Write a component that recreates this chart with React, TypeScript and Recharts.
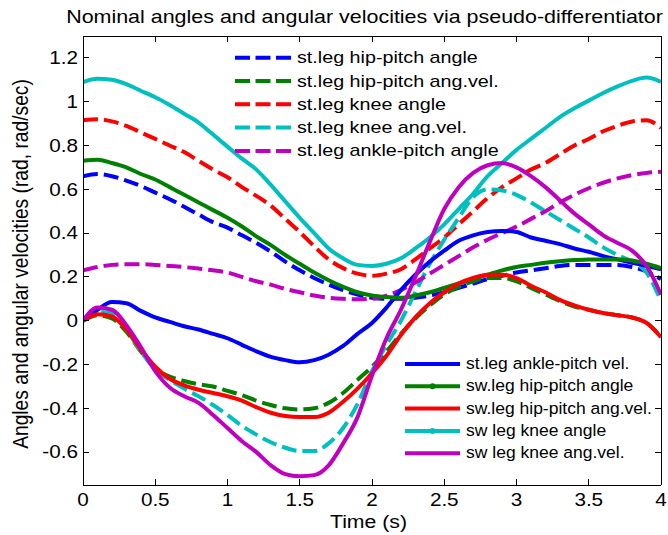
import { LineChart, Line, XAxis, YAxis } from 'recharts';

const FONT = '"Liberation Sans", Arial, Helvetica, sans-serif';

// sample times (s)
const time = [
  0, 0.1, 0.2, 0.3, 0.4, 0.5, 0.6, 0.7, 0.8, 0.9, 1.0,
  1.1, 1.2, 1.3, 1.4, 1.5, 1.6, 1.7, 1.8, 1.9, 2.0,
  2.1, 2.2, 2.3, 2.4, 2.5, 2.6, 2.7, 2.8, 2.9, 3.0,
  3.1, 3.2, 3.3, 3.4, 3.5, 3.6, 3.7, 3.8, 3.9, 4.0,
];

// stance leg
const stHipAngle = [
  0.66, 0.67, 0.66, 0.64, 0.615, 0.585, 0.555, 0.52, 0.485, 0.45, 0.425,
  0.39, 0.355, 0.315, 0.27, 0.23, 0.195, 0.165, 0.14, 0.12, 0.105,
  0.1, 0.1, 0.105, 0.115, 0.13, 0.15, 0.17, 0.19, 0.205, 0.22,
  0.23, 0.24, 0.25, 0.255, 0.255, 0.255, 0.255, 0.245, 0.225, 0.19,
];
const stHipVel = [
  0, 0.025, 0.01, -0.05, -0.14, -0.22, -0.255, -0.275, -0.29, -0.3, -0.32,
  -0.34, -0.365, -0.385, -0.4, -0.405, -0.4, -0.375, -0.33, -0.27, -0.21,
  -0.14, -0.06, 0.01, 0.07, 0.12, 0.155, 0.18, 0.195, 0.195, 0.18,
  0.15, 0.12, 0.09, 0.065, 0.05, 0.035, 0.025, 0.015, -0.01, -0.075,
];
const stKneeAngle = [
  0.915, 0.92, 0.91, 0.89, 0.86, 0.83, 0.8, 0.77, 0.73, 0.69, 0.655,
  0.61, 0.57, 0.525, 0.465, 0.405, 0.34, 0.28, 0.24, 0.215, 0.205,
  0.215, 0.235, 0.28, 0.33, 0.38, 0.44, 0.5, 0.56, 0.61, 0.65,
  0.69, 0.72, 0.76, 0.8, 0.83, 0.865, 0.89, 0.91, 0.915, 0.88,
];
const stKneeVel = [
  0, 0.04, 0.035, -0.04, -0.14, -0.22, -0.27, -0.31, -0.345, -0.385, -0.43,
  -0.48, -0.52, -0.555, -0.58, -0.595, -0.595, -0.56, -0.49, -0.38, -0.23,
  -0.11, 0.0, 0.13, 0.26, 0.37, 0.47, 0.565, 0.6, 0.595, 0.575,
  0.54, 0.5, 0.46, 0.42, 0.38, 0.335, 0.3, 0.27, 0.22, 0.09,
];
const stAnkleAngle = [
  0.23, 0.245, 0.255, 0.258, 0.258, 0.255, 0.25, 0.245, 0.238, 0.23, 0.22,
  0.2, 0.18, 0.165, 0.145, 0.13, 0.115, 0.105, 0.1, 0.098, 0.1,
  0.115, 0.14, 0.175, 0.215, 0.255, 0.295, 0.335, 0.37, 0.4, 0.43,
  0.465, 0.5, 0.54, 0.575, 0.605, 0.63, 0.65, 0.665, 0.675, 0.68,
];
const stAnkleVel = [
  0, 0.05, 0.085, 0.08, 0.045, 0.015, -0.005, -0.025, -0.04, -0.06, -0.08,
  -0.11, -0.14, -0.165, -0.18, -0.19, -0.18, -0.155, -0.115, -0.06, -0.01,
  0.06, 0.14, 0.21, 0.27, 0.32, 0.365, 0.39, 0.405, 0.41, 0.405,
  0.38, 0.365, 0.35, 0.33, 0.315, 0.295, 0.28, 0.265, 0.25, 0.235,
];

// swing leg
const swHipAngle = [
  0.73, 0.735, 0.72, 0.7, 0.67, 0.645, 0.61, 0.575, 0.54, 0.505, 0.47,
  0.43, 0.385, 0.345, 0.3, 0.26, 0.22, 0.185, 0.155, 0.13, 0.115,
  0.108, 0.105, 0.115, 0.13, 0.15, 0.17, 0.19, 0.21, 0.23, 0.245,
  0.255, 0.265, 0.272, 0.277, 0.28, 0.28, 0.28, 0.275, 0.26, 0.24,
];
const swHipVel = [
  0, 0.03, 0.02, -0.04, -0.13, -0.21, -0.265, -0.295, -0.315, -0.33, -0.345,
  -0.365, -0.395, -0.42, -0.435, -0.44, -0.44, -0.42, -0.37, -0.31, -0.24,
  -0.16, -0.065, 0.015, 0.08, 0.13, 0.17, 0.195, 0.21, 0.21, 0.195,
  0.16, 0.13, 0.095, 0.07, 0.05, 0.035, 0.025, 0.015, -0.01, -0.075,
];
const swKneeAngle = [
  1.09, 1.105, 1.1, 1.08, 1.05, 1.02, 0.985, 0.945, 0.905, 0.85, 0.795,
  0.74, 0.69, 0.62, 0.545, 0.47, 0.4, 0.33, 0.285, 0.255, 0.25,
  0.26, 0.285, 0.33, 0.38, 0.44, 0.51, 0.58, 0.66, 0.72, 0.78,
  0.83, 0.88, 0.93, 0.97, 1.005, 1.04, 1.07, 1.095, 1.11, 1.09,
];
const swKneeVel = [
  0, 0.06, 0.05, -0.02, -0.12, -0.23, -0.305, -0.345, -0.375, -0.43, -0.49,
  -0.55, -0.6, -0.66, -0.7, -0.71, -0.705, -0.66, -0.56, -0.44, -0.25,
  -0.08, 0.05, 0.2, 0.36, 0.51, 0.61, 0.675, 0.71, 0.72, 0.7,
  0.66, 0.61, 0.55, 0.49, 0.44, 0.39, 0.355, 0.32, 0.25, 0.12,
];

const xTicks = [0, 0.5, 1, 1.5, 2, 2.5, 3, 3.5, 4];
const yTicks = [-0.6, -0.4, -0.2, 0, 0.2, 0.4, 0.6, 0.8, 1, 1.2];

const BLUE = '#0000ff';
const GREEN = '#008000';
const RED = '#ff0000';
const CYAN = '#00bfbf';
const MAGENTA = '#bf00bf';

const SERIES = [
  { key: 'stHipAngle', name: 'st.leg hip-pitch angle', values: stHipAngle, color: BLUE, dashed: true },
  { key: 'stHipVel', name: 'st.leg hip-pitch ang.vel.', values: stHipVel, color: GREEN, dashed: true },
  { key: 'stKneeAngle', name: 'st.leg knee angle', values: stKneeAngle, color: RED, dashed: true },
  { key: 'stKneeVel', name: 'st.leg knee ang.vel.', values: stKneeVel, color: CYAN, dashed: true },
  { key: 'stAnkleAngle', name: 'st.leg ankle-pitch angle', values: stAnkleAngle, color: MAGENTA, dashed: true },
  { key: 'stAnkleVel', name: 'st.leg ankle-pitch vel.', values: stAnkleVel, color: BLUE, dashed: false },
  { key: 'swHipAngle', name: 'sw.leg hip-pitch angle', values: swHipAngle, color: GREEN, dashed: false, dot: true },
  { key: 'swHipVel', name: 'sw.leg hip-pitch ang.vel.', values: swHipVel, color: RED, dashed: false },
  { key: 'swKneeAngle', name: 'sw leg knee angle', values: swKneeAngle, color: CYAN, dashed: false, dot: true },
  { key: 'swKneeVel', name: 'sw leg knee ang.vel.', values: swKneeVel, color: MAGENTA, dashed: false },
];

const rows = time.map((t, i) => {
  const r: any = { t };
  SERIES.forEach(s => { r[s.key] = s.values[i]; });
  return r;
});

const YTick = ({ x, y, payload }: any) => (
  <text transform={`translate(${x},${y}) scale(1.15,1)`} textAnchor="end" dy="0.35em"
    fontSize={18} fontFamily={FONT} fill="#000">{payload.value}</text>
);

const XTick = ({ x, y, payload }: any) => (
  <text transform={`translate(${x},${y}) scale(1.15,1)`} textAnchor="middle" dy="0.71em"
    fontSize={18} fontFamily={FONT} fill="#000">{payload.value}</text>
);

// top / right frame axes: tick marks only, no labels
const NoLabel = () => <g />;

export default function App() {
    const axisLine = { stroke: '#000', strokeWidth: 1, shapeRendering: 'crispEdges' };
    const tickLine = { stroke: '#000', strokeWidth: 1, shapeRendering: 'crispEdges' };

    const legendTop = SERIES.slice(0, 5);
    const legendBottom = SERIES.slice(5);

    return (
        <div style={{ position: 'absolute', left: 0, top: 0, width: 668, height: 535, background: '#fff' }}>
            <LineChart width={668} height={535} data={rows}
                margin={{ top: 26, right: 0, bottom: 20, left: 23 }}>
                <XAxis xAxisId="b" type="number" dataKey="t" domain={[0, 4]} ticks={xTicks}
                    allowDataOverflow height={30} axisLine={axisLine} tickLine={tickLine}
                    tickSize={-6} tickMargin={14} tick={<XTick />} interval={0} />
                <XAxis xAxisId="top" orientation="top" type="number" dataKey="t" domain={[0, 4]}
                    ticks={xTicks} allowDataOverflow height={10} axisLine={axisLine} tickLine={tickLine}
                    tickSize={-6} tick={<NoLabel />} interval={0} />
                <YAxis yAxisId="l" type="number" domain={[-0.75, 1.3]} ticks={yTicks}
                    allowDataOverflow width={60} axisLine={axisLine} tickLine={tickLine}
                    tickSize={-6} tickMargin={11} tick={<YTick />} interval={0} />
                <YAxis yAxisId="r" orientation="right" type="number" domain={[-0.75, 1.3]}
                    ticks={yTicks} allowDataOverflow width={7} axisLine={axisLine} tickLine={tickLine}
                    tickSize={-6} tick={<NoLabel />} interval={0} />
                {SERIES.map(s => (
                    <Line key={s.key} xAxisId="b" yAxisId="l" type="monotone" dataKey={s.key}
                        stroke={s.color} strokeWidth={4} strokeDasharray={s.dashed ? '15 6' : undefined}
                        dot={false} activeDot={false} isAnimationActive={false} />
                ))}
                {/* invisible series so the frame axes stay bound to data */}
                <Line xAxisId="top" yAxisId="r" dataKey="stHipAngle" stroke="none" dot={false}
                    activeDot={false} legendType="none" isAnimationActive={false} />
            </LineChart>

            <svg width={668} height={535} style={{ position: 'absolute', left: 0, top: 0, pointerEvents: 'none' }}
                fontFamily={FONT} fill="#000">
                <text transform="translate(364.5,23) scale(1.16,1)" textAnchor="middle" fontSize={18.5}>
                    Nominal angles and angular velocities via pseudo-differentiator
                </text>
                <text transform="translate(368.5,528) scale(1.15,1)" textAnchor="middle" fontSize={18.5}>
                    Time (s)
                </text>
                <text transform="translate(28,264) rotate(-90) scale(1.04,1.15)" textAnchor="middle" fontSize={18.5}>
                    Angles and angular velocities (rad, rad/sec)
                </text>

                {legendTop.map((s, i) => {
                    const y = 57.7 + i * 23.3;
                    return (
                        <g key={s.key}>
                            <line x1={235} x2={291} y1={y} y2={y} stroke={s.color} strokeWidth={4}
                                strokeDasharray={s.dashed ? '15 5.5' : undefined} />
                            <text transform={`translate(297,${y + 5.5}) scale(1.16,1)`} fontSize={17}>{s.name}</text>
                        </g>
                    );
                })}
                {legendBottom.map((s, i) => {
                    const y = 364 + i * 22.3;
                    return (
                        <g key={s.key}>
                            <line x1={405} x2={460} y1={y} y2={y} stroke={s.color} strokeWidth={4}
                                strokeDasharray={s.dashed ? '15 5.5' : undefined} />
                            {s.dot && <circle cx={432.5} cy={y} r={3} fill={s.color} />}
                            <text transform={`translate(466,${y + 5}) scale(1.03,1)`} fontSize={17}>{s.name}</text>
                        </g>
                    );
                })}
            </svg>
        </div>
    );
}
